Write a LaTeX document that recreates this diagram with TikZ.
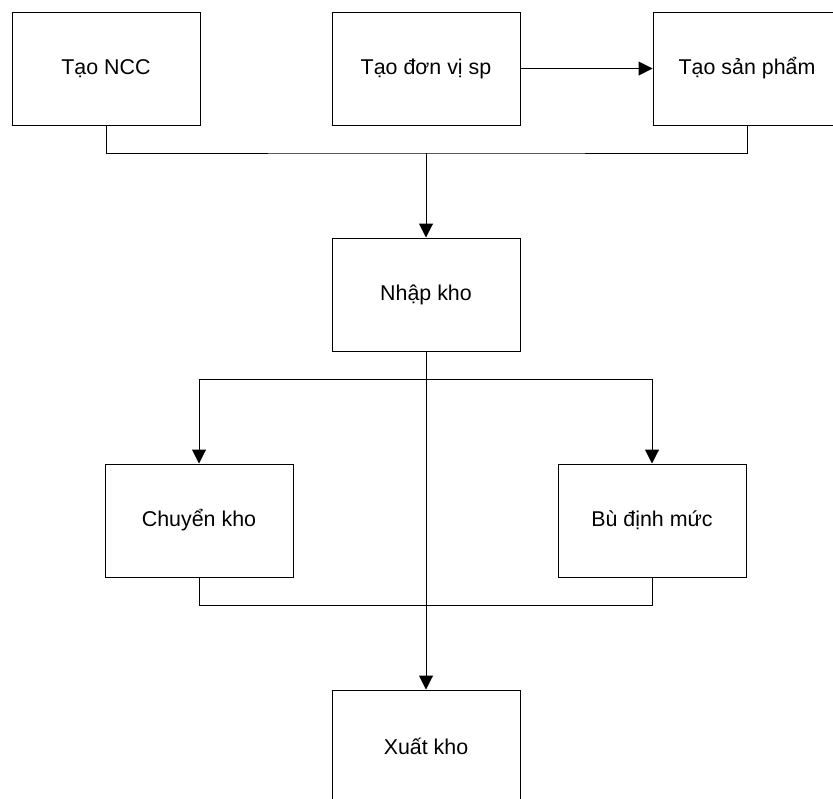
\documentclass[tikz,border=0pt]{standalone}
\usepackage{fontspec}
\setmainfont{Liberation Sans}
\usetikzlibrary{arrows.meta}
\begin{document}
\begin{tikzpicture}[x=0.5pt,y=-0.5pt,line width=0.5pt,>={Triangle[length=7pt,width=7pt]},
    main node/.style={rectangle,draw,minimum width=94pt,minimum height=56.5pt,inner sep=0pt,font=\fontsize{10.7}{13}\selectfont}]
                \useasboundingbox (0,0) rectangle (833,798);
                \clip (0,0) rectangle (833,798);
                \node[main node] at (106, 68.5) (ncc) {Tạo NCC};
                \node[main node] at (426, 68.5) (donvi) {Tạo đơn vị sp};
                \node[main node] at (747, 68.5) (sanpham) {Tạo sản phẩm};
                \node[main node] at (426, 294.5) (nhap) {Nhập kho};
                \node[main node] at (199, 520.5) (chuyen) {Chuyển kho};
                \node[main node] at (652, 520.5) (bu) {Bù định mức};
                \node[main node] at (426, 746.5) (xuat) {Xuất kho};
                \coordinate (bus1) at (426, 153);
                \coordinate (bus2) at (426, 379);
                \coordinate (bus3) at (426, 605);

                \path[->] (donvi) edge[] node [] {} (sanpham);
                \draw (ncc.south) |- (bus1) -| (sanpham.south);
                \draw[->] (bus1) -- (nhap);

                \draw[->] (nhap) -- (xuat);
                \draw[->] (bus2) -| (chuyen);
                \draw[->] (bus2) -| (bu);
                \draw (chuyen.south) |- (bus3) -| (bu.south);
            \end{tikzpicture}
\end{document}
